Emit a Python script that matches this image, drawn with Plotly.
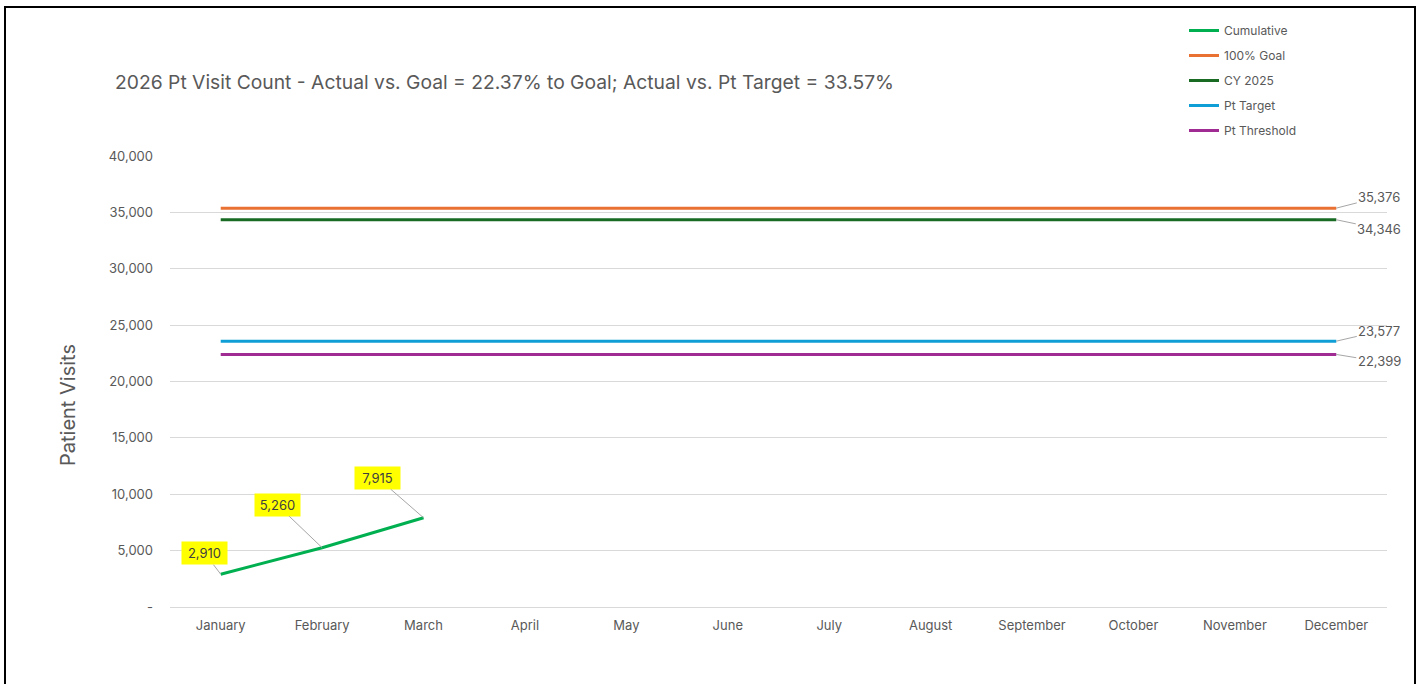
import plotly.graph_objects as go

months = ["January", "February", "March", "April", "May", "June", "July",
          "August", "September", "October", "November", "December"]
cumulative = [2910, 5260, 7915]
goal_100 = [35376] * 12
cy_2025 = [34346] * 12
pt_target = [23577] * 12
pt_threshold = [22399] * 12

y_tickvals = [0, 5000, 10000, 15000, 20000, 25000, 30000, 35000, 40000]
y_ticktext = ["-", "5,000", "10,000", "15,000", "20,000", "25,000", "30,000", "35,000", "40,000"]

title_text = "2026 Pt Visit Count - Actual vs. Goal = 22.37% to Goal; Actual vs. Pt Target = 33.57%"

FONT = "Inter"
GRAY = "#595959"

series = [
    ("Cumulative", months[:len(cumulative)], cumulative, "#00B050"),
    ("100% Goal", months, goal_100, "#E97132"),
    ("CY 2025", months, cy_2025, "#196B24"),
    ("Pt Target", months, pt_target, "#0F9ED5"),
    ("Pt Threshold", months, pt_threshold, "#A02B93"),
]

fig = go.Figure()
for i, (name, xs, ys, color) in enumerate(series):
    fig.add_trace(go.Scatter(
        x=xs, y=ys, name=name, mode="lines",
        line=dict(color=color, width=3),
        legendgroup=f"g{i}",
        hoverinfo="skip",
    ))

annotations = []
# Cumulative labels (yellow callouts)
cum_offsets = [(-16, -21), (-45, -43), (-46, -40)]
for m, v, (ax, ay) in zip(months, cumulative, cum_offsets):
    annotations.append(dict(
        x=m, y=v, xref="x", yref="y", text=f"{v:,}",
        showarrow=True, arrowhead=0, arrowwidth=1, arrowcolor="#A6A6A6",
        ax=ax, ay=ay, bgcolor="#FFFF00", borderpad=4, width=37, height=14,
        font=dict(family=FONT, size=13, color="#404040"),
    ))

# End labels for the flat lines
end_offsets = [(goal_100, -11), (cy_2025, 9), (pt_target, -10), (pt_threshold, 7)]
for arr, ay in end_offsets:
    v = arr[-1]
    annotations.append(dict(
        x=months[len(arr) - 1], y=v, xref="x", yref="y", text=f"{v:,}",
        showarrow=True, arrowhead=0, arrowwidth=1, arrowcolor="#A6A6A6",
        ax=43, ay=ay, borderpad=1,
        font=dict(family=FONT, size=13, color=GRAY),
    ))

# Y axis title (placed like the original, slightly below plot centre)
annotations.append(dict(
    text="Patient Visits", xref="paper", yref="paper",
    x=(68 - 170) / 1217, y=(607 - 405) / 451, xanchor="center", yanchor="middle",
    textangle=-90, showarrow=False,
    font=dict(family=FONT, size=20, color=GRAY),
))

fig.update_layout(
    width=1424, height=684,
    paper_bgcolor="white", plot_bgcolor="white",
    margin=dict(l=170, r=37, t=156, b=77, autoexpand=False),
    font=dict(family=FONT, color=GRAY, size=13),
    title=dict(
        text=title_text, x=115 / 1424, xref="container", xanchor="left",
        y=1 - 82 / 684, yref="container", yanchor="middle",
        font=dict(family=FONT, size=19.3, color=GRAY),
    ),
    showlegend=True,
    legend=dict(
        x=(1184 - 170) / 1217, xanchor="left", y=(607 - 16) / 451, yanchor="top",
        font=dict(family=FONT, size=12, color=GRAY),
        tracegroupgap=6, bgcolor="rgba(0,0,0,0)",
    ),
    xaxis=dict(
        type="category", categoryorder="array", categoryarray=months,
        range=[-0.5, 11.5], showgrid=False, zeroline=False, showline=False,
        ticks="", ticklabelstandoff=9,
        tickfont=dict(family=FONT, size=13, color=GRAY),
    ),
    yaxis=dict(
        range=[0, 40000], tickvals=y_tickvals, ticktext=y_ticktext,
        showgrid=True, gridcolor="#D9D9D9", gridwidth=1,
        zeroline=True, zerolinecolor="#D9D9D9", zerolinewidth=1,
        showline=False, ticks="", ticklabelstandoff=16,
        tickfont=dict(family=FONT, size=13, color=GRAY),
    ),
    annotations=annotations,
    shapes=[dict(
        type="rect", xref="paper", yref="paper",
        x0=(5 - 170) / 1217, x1=(1415 - 170) / 1217,
        y0=(607 - 700) / 451, y1=(607 - 7) / 451,
        line=dict(color="black", width=2), fillcolor="rgba(0,0,0,0)",
    )],
)

fig.write_html("out.html", config={"displayModeBar": False},
               post_script="document.body.style.margin='0px';")
